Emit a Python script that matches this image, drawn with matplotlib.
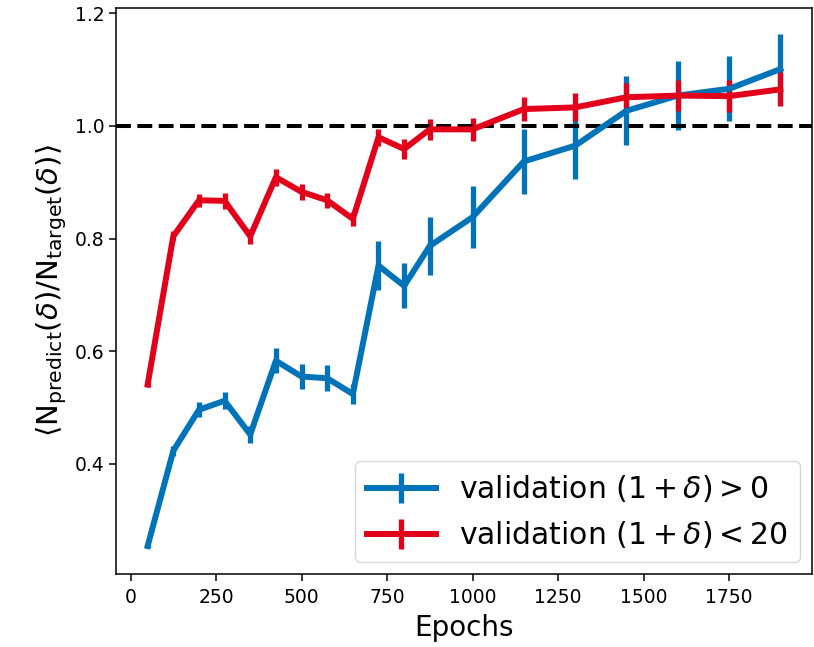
import matplotlib
matplotlib.use("Agg")
import matplotlib.pyplot as plt
import numpy as np

# ---- data ----
epochs = [50, 125, 200, 275, 350, 425, 500, 575, 650, 725,
          800, 875, 1000, 1150, 1300, 1450, 1600, 1750, 1900]

ratio_pos = [0.254, 0.423, 0.496, 0.512, 0.452, 0.583, 0.555, 0.552, 0.524, 0.752,
             0.716, 0.787, 0.838, 0.937, 0.965, 1.027, 1.054, 1.066, 1.101]
err_pos = [0.004, 0.009, 0.013, 0.015, 0.015, 0.022, 0.023, 0.023, 0.018, 0.044,
           0.040, 0.052, 0.055, 0.058, 0.059, 0.061, 0.062, 0.058, 0.063]

ratio_lt20 = [0.541, 0.804, 0.868, 0.867, 0.804, 0.909, 0.883, 0.868, 0.835, 0.980,
              0.959, 0.994, 0.994, 1.030, 1.033, 1.051, 1.054, 1.053, 1.065]
err_lt20 = [0.004, 0.009, 0.012, 0.014, 0.013, 0.015, 0.014, 0.013, 0.013, 0.015,
            0.017, 0.019, 0.021, 0.022, 0.025, 0.025, 0.028, 0.028, 0.030]

labels = [r"validation $(1+\delta) > 0$", r"validation $(1+\delta) < 20$"]

BLUE = "#0173b8"
RED = "#e3001b"

fig = plt.figure(figsize=(8.14, 6.47), dpi=100)
ax = fig.add_axes([0.1425, 0.1128, 0.855, 0.8750])

ax.errorbar(epochs, ratio_pos, yerr=err_pos, color=BLUE, lw=4.3,
            elinewidth=3.8, label=labels[0])
ax.errorbar(epochs, ratio_lt20, yerr=err_lt20, color=RED, lw=4.3,
            elinewidth=3.8, label=labels[1])
ax.axhline(1.0, color="black", ls="--", lw=2.9)

ax.set_yticks([0.4, 0.6, 0.8, 1.0, 1.2])
ax.set_xticks([0, 250, 500, 750, 1000, 1250, 1500, 1750])
ax.tick_params(labelsize=13.5, length=5, width=1.1)
ax.tick_params(axis="x", pad=5)
for sp in ax.spines.values():
    sp.set_linewidth(1.1)

ax.set_xlabel("Epochs", fontsize=20, labelpad=5)
ax.set_ylabel(r"$\langle \mathrm{N}_{\mathrm{predict}}(\delta)/\mathrm{N}_{\mathrm{target}}(\delta) \rangle$",
              fontsize=21, labelpad=4)

ax.legend(loc="lower right", fontsize=21.5, handlelength=2.3, borderaxespad=0.4)

fig.savefig("out.png", dpi=100)
